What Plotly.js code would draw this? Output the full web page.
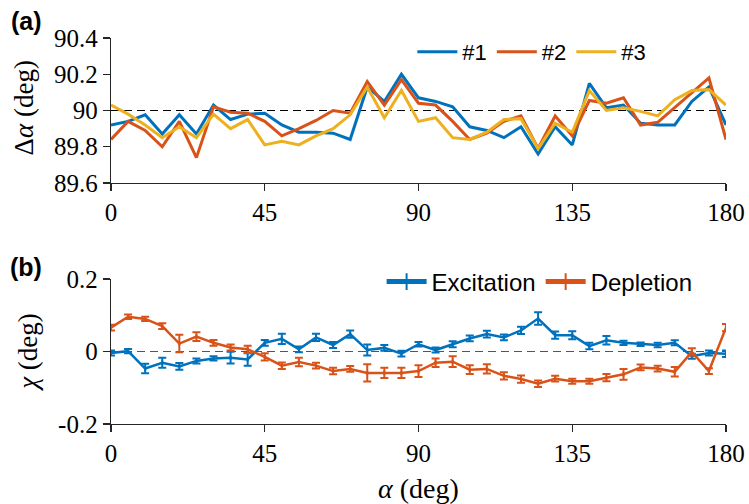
<!DOCTYPE html>
<html>
<head>
<meta charset="utf-8">
<script src="https://cdn.plot.ly/plotly-3.0.1.min.js"></script>
<style>html,body{margin:0;padding:0;background:#fff;}#chart{width:749px;height:504px;}</style>
</head>
<body>
<div id="chart"></div>
<script>
// ---- data ----
const angles = [0,5,10,15,20,25,30,35,40,45,50,55,60,65,70,75,80,85,90,95,100,105,110,115,120,125,130,135,140,145,150,155,160,165,170,175,180];
const dAlpha1 = [89.92,89.94,89.976,89.87,89.976,89.87,90.03,89.95,89.98,89.985,89.92,89.88,89.88,89.875,89.84,90.13,90.05,90.20,90.07,90.05,90.02,89.91,89.89,89.85,89.91,89.76,89.91,89.81,90.15,90.015,90.03,89.93,89.92,89.92,90.05,90.13,89.92];
const dAlpha2 = [89.84,89.94,89.89,89.80,89.94,89.74,90.02,89.99,89.985,89.94,89.86,89.90,89.945,90.0,89.985,90.16,90.03,90.17,90.04,90.03,89.94,89.84,89.875,89.94,89.97,89.79,89.97,89.86,90.055,90.04,90.07,89.92,89.935,90.015,90.10,90.18,89.84];
const dAlpha3 = [90.03,89.98,89.92,89.85,89.91,89.85,89.98,89.90,89.95,89.81,89.83,89.81,89.86,89.90,89.976,90.13,89.96,90.11,89.94,89.96,89.85,89.84,89.88,89.95,89.955,89.79,89.93,89.88,90.11,90.0,90.015,89.995,89.97,90.06,90.11,90.115,90.03];
const chiExc = [-0.004,0.001,-0.047,-0.031,-0.041,-0.026,-0.019,-0.017,-0.022,0.024,0.035,0.006,0.039,0.018,0.048,0.004,0.010,-0.006,0.020,0.004,0.020,0.036,0.048,0.039,0.058,0.091,0.045,0.045,0.015,0.031,0.024,0.020,0.018,0.024,-0.013,-0.004,-0.006];
const chiExcErr = [0.007,0.006,0.013,0.014,0.009,0.007,0.006,0.016,0.017,0.008,0.014,0.008,0.01,0.008,0.01,0.015,0.008,0.008,0.006,0.007,0.008,0.008,0.009,0.008,0.01,0.017,0.01,0.011,0.009,0.012,0.006,0.005,0.006,0.007,0.007,0.007,0.009];
const chiDep = [0.066,0.096,0.090,0.070,0.022,0.041,0.024,0.011,0.006,-0.015,-0.039,-0.029,-0.039,-0.054,-0.048,-0.059,-0.059,-0.059,-0.054,-0.031,-0.028,-0.050,-0.048,-0.067,-0.076,-0.089,-0.075,-0.082,-0.082,-0.072,-0.063,-0.044,-0.047,-0.056,-0.001,-0.054,0.066];
const chiDepErr = [0.008,0.006,0.006,0.008,0.024,0.012,0.008,0.008,0.01,0.01,0.009,0.012,0.008,0.009,0.008,0.024,0.014,0.014,0.016,0.012,0.015,0.012,0.013,0.01,0.01,0.009,0.008,0.007,0.007,0.01,0.015,0.008,0.008,0.013,0.01,0.008,0.01];
const xTicks = [0,45,90,135,180];
const xTickText = ['0','45','90','135','180'];
const yTopTicks = [89.6,89.8,90,90.2,90.4];
const yTopTickText = ['89.6','89.8','90','90.2','90.4'];
const yBotTicks = [-0.2,0,0.2];
const yBotTickText = ['-0.2','0','0.2'];
const refTop = 90, refBot = 0;
const topNames = ['#1','#2','#3'];
const botNames = ['Excitation','Depletion'];

// ---- style ----
const C = ['#0072BD','#D95319','#EDB120'];
const serif = 'Liberation Serif, Times New Roman, serif';
const sans = 'Liberation Sans, Arial, sans-serif';
const axCol = '#262626';

const traces = [];
[dAlpha1, dAlpha2, dAlpha3].forEach((d,i)=>{
  traces.push({x: angles, y: d, type:'scatter', mode:'lines', name: topNames[i],
    line:{color:C[i], width:3}, xaxis:'x', yaxis:'y', legend:'legend'});
});
[[chiExc, chiExcErr],[chiDep, chiDepErr]].forEach((p,i)=>{
  traces.push({x: angles, y: p[0], type:'scatter', mode:'lines+markers', name: botNames[i],
    line:{color:C[i], width:2.5},
    marker:{symbol:'line-ns-open', size:3, color:C[i], line:{color:C[i], width:2}},
    error_y:{type:'data', array:p[1], visible:true, color:C[i], thickness:2, width:4},
    xaxis:'x2', yaxis:'y2', legend:'legend2'});
});

const xCommon = {range:[0,180], tickvals:xTicks, ticktext:xTickText, ticks:'outside', ticklen:7, tickwidth:1.3,
  tickcolor:axCol, showline:true, linecolor:axCol, linewidth:1.3, showgrid:false, zeroline:false,
  tickfont:{family:serif, size:25, color:'#000'}, fixedrange:true};
const yCommon = {ticks:'outside', ticklen:7, tickwidth:1.3, tickcolor:axCol, showline:true, linecolor:axCol,
  linewidth:1.3, showgrid:false, zeroline:false, tickfont:{family:serif, size:25, color:'#000'}};

const layout = {
  width:749, height:504, paper_bgcolor:'#fff', plot_bgcolor:'rgba(0,0,0,0)',
  margin:{l:111, r:23, t:38, b:80},
  showlegend:true,
  xaxis: Object.assign({}, xCommon, {domain:[0,1], anchor:'y'}),
  yaxis: Object.assign({}, yCommon, {domain:[0.6244,1], range:[89.6,90.4], tickvals:yTopTicks, ticktext:yTopTickText, anchor:'x'}),
  xaxis2: Object.assign({}, xCommon, {domain:[0,1], anchor:'y2'}),
  yaxis2: Object.assign({}, yCommon, {domain:[0,0.3756], range:[-0.2,0.2], tickvals:yBotTicks, ticktext:yBotTickText, anchor:'x2'}),
  legend:{orientation:'h', x:0.49, xanchor:'left', y:0.964, yanchor:'middle', bgcolor:'rgba(0,0,0,0)',
    font:{family:sans, size:22, color:'#000'}, itemwidth:40},
  legend2:{orientation:'h', x:0.44, xanchor:'left', y:0.368, yanchor:'middle', bgcolor:'rgba(0,0,0,0)',
    font:{family:sans, size:24, color:'#000'}, itemwidth:40, itemsizing:'constant'},
  shapes:[
    {type:'line', xref:'x', yref:'y', x0:angles[0], x1:angles[angles.length-1], y0:refTop, y1:refTop,
      line:{color:'#000', width:1.2, dash:'8px,5px'}, layer:'below'},
    {type:'line', xref:'x2', yref:'y2', x0:angles[0], x1:angles[angles.length-1], y0:refBot, y1:refBot,
      line:{color:'#555', width:1.2, dash:'8px,5px'}, layer:'below'}
  ],
  annotations:[
    {text:'<b>(a)</b>', xref:'paper', yref:'paper', x:-0.138, y:1.043, xanchor:'center', yanchor:'middle', showarrow:false, font:{family:sans, size:25, color:'#000'}},
    {text:'<b>(b)</b>', xref:'paper', yref:'paper', x:-0.138, y:0.406, xanchor:'center', yanchor:'middle', showarrow:false, font:{family:sans, size:25, color:'#000'}},
    {text:'Δ<i>α</i> (deg)', xref:'paper', yref:'paper', x:-0.14, y:0.82, xanchor:'center', yanchor:'middle', textangle:-90, showarrow:false, font:{family:serif, size:27, color:'#000'}},
    {text:'<i>χ</i> (deg)', xref:'paper', yref:'paper', x:-0.135, y:0.187, xanchor:'center', yanchor:'middle', textangle:-90, showarrow:false, font:{family:serif, size:27, color:'#000'}},
    {text:'<i>α</i> (deg)', xref:'paper', yref:'paper', x:0.5, y:-0.166, xanchor:'center', yanchor:'middle', showarrow:false, font:{family:serif, size:28, color:'#000'}}
  ]
};

Plotly.newPlot('chart', traces, layout, {displayModeBar:false, staticPlot:true});
</script>
</body>
</html>
